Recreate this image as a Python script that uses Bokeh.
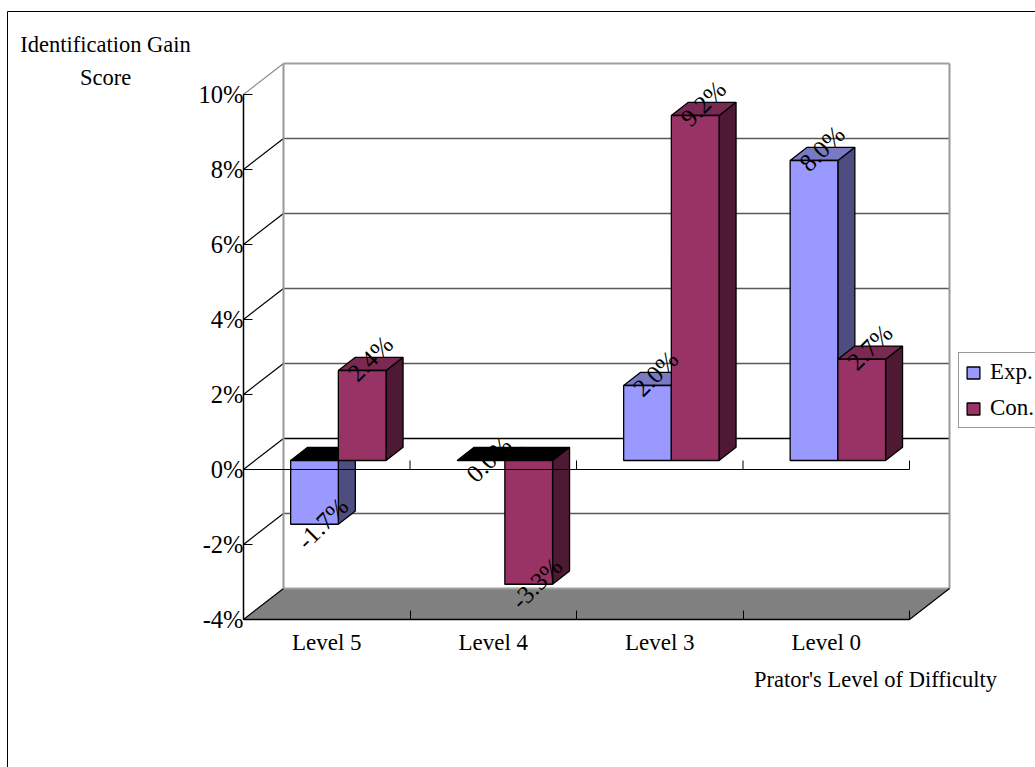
from bokeh.core.properties import value
from bokeh.embed import file_html
from bokeh.models import BoxAnnotation, ColumnDataSource, FixedTicker, Label, Legend, LegendItem, LinearAxis
from bokeh.plotting import figure
from bokeh.resources import INLINE

# Gain scores per difficulty level
categories = ["Level 5", "Level 4", "Level 3", "Level 0"]
exp_values = [-1.7, 0.0, 2.0, 8.0]
con_values = [2.4, -3.3, 9.2, 2.7]
y_ticks = [-4, -2, 0, 2, 4, 6, 8, 10]

FONT = "Liberation Serif"
EXP_FRONT, EXP_SIDE, EXP_TOP = "#9999FF", "#4D4D80", "#7A7AC2"
CON_FRONT, CON_SIDE, CON_TOP = "#993366", "#4D1933", "#7A2952"

# The plot area fills the page; one category is 166.5 px wide and one percent 37.5 px tall
PAGE_W, PAGE_H = 1035, 767
CAT_PX, PCT_PX = 166.5, 37.5
ORIGIN_X, FLOOR_Y = 243, 619

# Oblique projection: the back wall is shifted by this much from the front plane
DEPTH_X = 40 / CAT_PX
DEPTH_Y = 31 / PCT_PX
BAR_NEAR = 0.29        # fraction of the depth where a bar's front face sits
BAR_DEPTH = 0.425      # fraction of the depth a bar occupies
BAR_WIDTH = 47.7 / CAT_PX


def project(x, y, z):
    return x + z * DEPTH_X, y + z * DEPTH_Y


def quad(points):
    xs, ys = zip(*[project(*pt) for pt in points])
    return list(xs), list(ys)


def bar_faces(left, v):
    right = left + BAR_WIDTH
    near, far = BAR_NEAR, BAR_NEAR + BAR_DEPTH
    hi = max(v, 0)
    front = quad([(left, 0, near), (right, 0, near), (right, v, near), (left, v, near)])
    side = quad([(right, 0, near), (right, 0, far), (right, v, far), (right, v, near)])
    top = quad([(left, hi, near), (right, hi, near), (right, hi, far), (left, hi, far)])
    return front, side, top


p = figure(
    width=PAGE_W, height=PAGE_H, min_border=0,
    x_range=(-ORIGIN_X / CAT_PX, (PAGE_W - ORIGIN_X) / CAT_PX),
    y_range=(-4 - (PAGE_H - FLOOR_Y) / PCT_PX, -4 + FLOOR_Y / PCT_PX),
    output_backend="svg", toolbar_location=None, x_axis_type=None, y_axis_type=None,
)
p.xgrid.visible = False
p.ygrid.visible = False
p.outline_line_color = None

n = len(categories)

# Floor and walls
floor = quad([(0, -4, 0), (n, -4, 0), (n, -4, 1), (0, -4, 1)])
p.patch(floor[0], floor[1], fill_color="#808080", line_color=None)

back_x = [project(0, 0, 1)[0], project(n, 0, 1)[0]]
for t in y_ticks:
    by = project(0, t, 1)[1]
    pale = t in (-4, 10)
    p.line(back_x, [by, by], line_color="#a0a0a0" if pale else ("black" if t == 0 else "#5a5a5a"),
           line_width=2 if pale else 1.3)
    dx, dy = quad([(0, t, 0), (0, t, 1)])
    p.line(dx, dy, line_color="#8c8c8c" if t == 10 else "black", line_width=1.2)
for bx in back_x:
    p.line([bx, bx], [project(0, -4, 1)[1], project(0, 10, 1)[1]], line_color="#999999", line_width=2)

edge = quad([(n, -4, 0), (n, -4, 1)])
p.line(edge[0], edge[1], line_color="black", line_width=1.2)

# Bars, drawn back to front for each series
centres = [i + 0.5 for i in range(n)]
lefts_exp = [c - BAR_WIDTH for c in centres]
lefts_con = list(centres)


def draw_series(lefts, values, front_color, side_color, top_color):
    faces = [bar_faces(l, v) for l, v in zip(lefts, values)]
    side = ColumnDataSource(dict(xs=[f[1][0] for f in faces], ys=[f[1][1] for f in faces]))
    p.patches("xs", "ys", source=side, fill_color=side_color, line_color="black", line_width=1.3)
    top = ColumnDataSource(dict(
        xs=[f[2][0] for f in faces], ys=[f[2][1] for f in faces],
        c=["black" if v <= 0 else top_color for v in values],
    ))
    p.patches("xs", "ys", source=top, fill_color="c", line_color="black", line_width=1.3)
    # A zero-height bar has no visible front
    drawn = [f for f, v in zip(faces, values) if v != 0]
    front = ColumnDataSource(dict(xs=[f[0][0] for f in drawn], ys=[f[0][1] for f in drawn]))
    return p.patches("xs", "ys", source=front, fill_color=front_color, line_color="black", line_width=1.3)


exp_renderer = draw_series(lefts_exp, exp_values, EXP_FRONT, EXP_SIDE, EXP_TOP)
con_renderer = draw_series(lefts_con, con_values, CON_FRONT, CON_SIDE, CON_TOP)

# Zero line on the front plane with its tick marks
p.line([0, n], [0, 0], line_color="black", line_width=1.2)
p.segment(list(range(n + 1)), [0] * (n + 1), list(range(n + 1)), [9 / PCT_PX] * (n + 1),
          line_color="black", line_width=1)

# Value axis
yaxis = LinearAxis(
    fixed_location=0,
    ticker=FixedTicker(ticks=y_ticks), bounds=(-4, 10),
    major_label_overrides={t: f"{t}%" for t in y_ticks},
    major_tick_in=9, major_tick_out=0, major_label_standoff=0,
    minor_tick_line_color=None, axis_line_color="black", axis_line_width=1.5,
    major_label_text_font=FONT, major_label_text_font_size="24.5px", major_label_text_color="black",
)
p.add_layout(yaxis, "left")

# Category axis: labels sit at group centres, tick marks at group boundaries
xaxis = LinearAxis(
    fixed_location=-4,
    ticker=FixedTicker(ticks=centres, minor_ticks=list(range(n + 1))), bounds=(0, n),
    major_label_overrides={c: lab for c, lab in zip(centres, categories)},
    major_tick_line_color=None, major_tick_in=0, major_tick_out=0, major_label_standoff=10,
    minor_tick_in=9, minor_tick_out=0, minor_tick_line_color="black",
    axis_line_color="black", axis_line_width=1.5,
    major_label_text_font=FONT, major_label_text_font_size="23px", major_label_text_color="black",
)
p.add_layout(xaxis, "below")

# Rotated value labels
lx, ly, lt, ly_off = [], [], [], []
for lefts, values in ((lefts_exp, exp_values), (lefts_con, con_values)):
    for l, v in zip(lefts, values):
        nx, ny = project(l + BAR_WIDTH / 2, v, BAR_NEAR)
        lx.append(nx)
        ly.append(ny)
        lt.append(f"{v:.1f}%")
        ly_off.append(-12 if v > 0 else -1)
p.text(lx, ly, text=lt, angle=45, angle_units="deg", text_font=value(FONT), text_font_size="25px",
       text_align="center", text_baseline="middle", x_offset=8, y_offset=ly_off, text_color="black")

# Legend runs past the edge of the page
legend = Legend(
    items=[LegendItem(label="Exp.", renderers=[exp_renderer]), LegendItem(label="Con.", renderers=[con_renderer])],
    location=(958, 339), orientation="vertical", padding=6, margin=0, spacing=10,
    glyph_width=16, glyph_height=15, label_standoff=9, border_line_color="#333333", border_line_width=1,
    label_text_font=FONT, label_text_font_size="23px", label_text_color="black", background_fill_color="white",
)
p.add_layout(legend)

# Titles
for text, cx, cy in (("Identification Gain", 105, 44), ("Score", 105, 77), ("Prator's Level of Difficulty", 875, 679)):
    p.add_layout(Label(x=cx, y=cy, x_units="canvas", y_units="canvas", text=text, text_font=FONT,
                       text_font_size="22.5px", text_align="center", text_baseline="middle", text_color="black"))

# Chart-area frame, open past the page edges
p.add_layout(BoxAnnotation(left=7, top=11, right=1200, bottom=1200, left_units="canvas", top_units="canvas",
                           right_units="canvas", bottom_units="canvas", fill_color=None, fill_alpha=0,
                           line_color="black", line_alpha=1, line_width=1))

open("out.html", "w").write(file_html(p, INLINE))
